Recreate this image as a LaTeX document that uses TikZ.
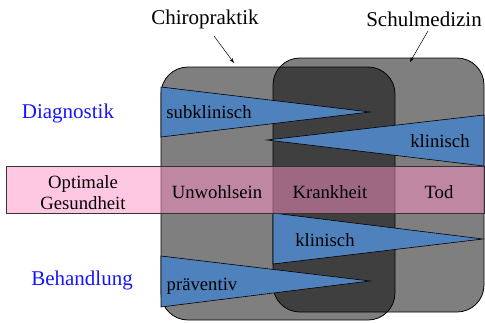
\documentclass[tikz,border=0pt]{standalone}
\usepackage{fontspec}
\setmainfont{Liberation Serif}[Ligatures=TeX]
\newfontfamily\timesf{Liberation Serif}
\usetikzlibrary{arrows.meta}
\definecolor{tblue}{RGB}{79,129,189}
\definecolor{tpink}{RGB}{255,145,198}
\definecolor{lblue}{RGB}{20,20,255}
\begin{document}
\begin{tikzpicture}[x=1pt,y=-1pt,
  box/.style={draw=black,line width=0.8pt,fill=black,fill opacity=0.5,rounded corners=27pt,inner sep=0pt,outer sep=0pt},
  tri/.style={draw=black,line width=0.6pt,fill=tblue},
  band/.style={draw=black!80,line width=0.6pt,fill=tpink,fill opacity=0.5,inner sep=0pt,outer sep=0pt},
  txt/.style={font=\timesf\fontsize{18.7}{21.5}\selectfont,inner sep=0pt,align=center},
  head/.style={font=\timesf\fontsize{21}{24}\selectfont,inner sep=0pt},
  side/.style={font=\timesf\fontsize{21}{24}\selectfont,inner sep=0pt,text=lblue},
  arr/.style={-{Stealth[length=5pt,width=3.5pt]},line width=0.5pt}]
\useasboundingbox (0,0) rectangle (485,322);
% boxes
\node[box,minimum width=234pt,minimum height=253pt] (chiro) at (278,193.5) {};
\node[box,minimum width=211pt,minimum height=254pt] (schul) at (378.5,185) {};
% triangles
\draw[tri] (161,87) -- (370,112) -- (161,137) -- cycle;
\draw[tri] (484,115) -- (267,140) -- (484,166) -- cycle;
\draw[tri] (273,213) -- (483,239) -- (273,264) -- cycle;
\draw[tri] (161,256) -- (370,281) -- (161,307) -- cycle;
% band
\node[band,minimum width=478pt,minimum height=47pt] (band) at (245,189.5) {};
% texts
\node[txt] (sub) at (209,112) {subklinisch};
\node[txt] (klin1) at (440,141) {klinisch};
\node[txt] (klin2) at (325,240) {klinisch};
\node[txt] (prae) at (202,286) {präventiv};
\node[txt] (opt) at (83,192.5) {Optimale\\Gesundheit};
\node[txt] (unw) at (217,192) {Unwohlsein};
\node[txt] (krank) at (330,192) {Krankheit};
\node[txt] (tod) at (439,192) {Tod};
\node[side] (diag) at (68,113) {Diagnostik};
\node[side] (behand) at (82,280) {Behandlung};
\node[head] (chirolbl) at (205,19) {Chiropraktik};
\node[head] (schullbl) at (424,19) {Schulmedizin};
% arrows
\coordinate (ca) at (214,36);
\coordinate (cb) at (234,63);
\coordinate (sa) at (428,31);
\coordinate (sb) at (410,62);
\draw[arr] (ca) -- (cb);
\draw[arr] (sa) -- (sb);
\end{tikzpicture}
\end{document}
